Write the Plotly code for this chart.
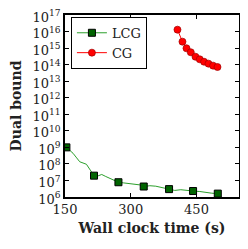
import plotly.graph_objects as go

# LCG (dense line) and its marked points
lcg_time = [153.2, 160.7, 168.3, 176.7, 183.6, 198.9, 210.3, 216.2, 224.7, 233.8, 242.9,
            252.1, 261.2, 271.9, 284.0, 297.7, 311.4, 320.5, 329.6, 343.4, 357.1, 370.8,
            387.4, 400.4, 414.2, 427.8, 442.2, 457.5, 471.2, 484.9, 498.6]
lcg_bound = [1.0e9, 6.9e8, 4.4e8, 2.3e8, 1.35e8, 9.5e7, 3.4e7, 1.95e7, 1.86e7, 2.3e7, 1.74e7,
             1.32e7, 1.0e7, 7.8e6, 7.1e6, 6.6e6, 6.2e6, 5.4e6, 4.3e6, 4.8e6, 4.5e6, 3.7e6,
             3.0e6, 2.5e6, 2.75e6, 2.45e6, 2.3e6, 2.15e6, 1.86e6, 1.7e6, 1.6e6]
lcg_mark_time = [153.2, 216.2, 271.9, 329.6, 387.4, 442.2, 498.6]
lcg_mark_bound = [1.0e9, 1.95e7, 7.8e6, 4.3e6, 3.0e6, 2.3e6, 1.6e6]

# CG
cg_time = [406.6, 418.0, 427.2, 437.0, 447.7, 457.5, 467.3, 477.4, 487.9, 497.9]
cg_bound = [1.3e16, 2.45e15, 9.8e14, 5.6e14, 3.0e14, 2.1e14, 1.5e14, 1.15e14, 8.7e13, 7.2e13]

x_ticks = [150, 300, 450]
y_exps = list(range(6, 18))
y_ticks = [10 ** e for e in y_exps]
y_ticktext = ["10<sup>%d</sup>" % e for e in y_exps]

FONT = "DejaVu Serif"
GREEN_LINE = "#2ca02c"
GREEN_FILL = "#006400"
RED = "#ff0000"
TXT = "#222"

fig = go.Figure()
fig.add_trace(go.Scatter(x=lcg_time, y=lcg_bound, mode="lines",
                         line=dict(color=GREEN_LINE, width=1), showlegend=False,
                         hoverinfo="skip"))
fig.add_trace(go.Scatter(x=lcg_mark_time, y=lcg_mark_bound, mode="markers",
                         marker=dict(symbol="square", size=7, color=GREEN_FILL,
                                     line=dict(color="black", width=1)),
                         showlegend=False))
fig.add_trace(go.Scatter(x=cg_time, y=cg_bound, mode="lines+markers", name="CG",
                         line=dict(color=RED, width=1),
                         marker=dict(symbol="circle", size=7, color=RED,
                                     line=dict(color="#a00000", width=0.7)),
                         showlegend=False))
# legend entries
fig.add_trace(go.Scatter(x=[None], y=[None], mode="lines+markers", name="LCG",
                         line=dict(color=GREEN_LINE, width=1),
                         marker=dict(symbol="square", size=7, color=GREEN_FILL,
                                     line=dict(color="black", width=1))))
fig.add_trace(go.Scatter(x=[None], y=[None], mode="lines+markers", name="CG",
                         line=dict(color=RED, width=1),
                         marker=dict(symbol="circle", size=7, color=RED,
                                     line=dict(color="#a00000", width=0.7))))

axis_common = dict(showgrid=False, zeroline=False, showline=True, linecolor="black",
                   linewidth=1.5, mirror="ticks", ticks="inside", ticklen=4,
                   tickcolor="black", tickwidth=1, automargin=False,
                   ticklabeloverflow="allow",
                   tickfont=dict(family=FONT, size=13, color=TXT))

fig.update_xaxes(range=[150, 547], tickvals=x_ticks, ticktext=[str(v) for v in x_ticks],
                 title=dict(text="<b>Wall clock time (s)</b>",
                            font=dict(family=FONT, size=14, color=TXT), standoff=7),
                 **axis_common)
fig.update_yaxes(type="log", range=[6, 17], tickvals=y_ticks, ticktext=y_ticktext,
                 ticklabelshift=2,
                 title=dict(text="<b>Dual bound</b>",
                            font=dict(family=FONT, size=14, color=TXT), standoff=12),
                 **axis_common)

# the page body adds an 8px offset, so the figure is 8px smaller and margins compensated
fig.update_layout(
    width=240, height=241,
    margin=dict(l=57, r=9, t=7, b=52),
    paper_bgcolor="white", plot_bgcolor="white",
    legend=dict(x=0.034, y=0.99, xanchor="left", yanchor="top",
                bordercolor="black", borderwidth=1, bgcolor="white",
                font=dict(family=FONT, size=13, color=TXT),
                itemwidth=30, tracegroupgap=0),
)

fig.write_html("out.html")
